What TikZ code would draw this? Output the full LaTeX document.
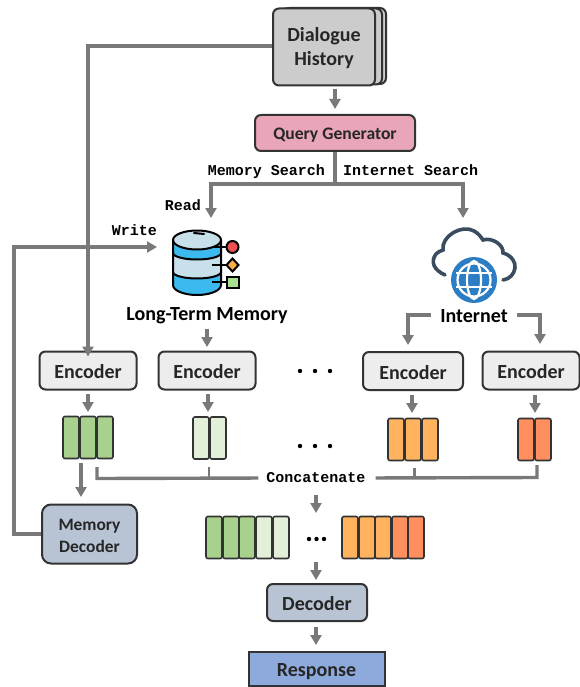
\documentclass[tikz,border=0pt]{standalone}
\usepackage{fontspec}
\setmainfont{Carlito}
\newfontfamily\monob{Liberation Mono}[Scale=1]
\usetikzlibrary{arrows.meta,shapes.geometric}
\definecolor{lin}{HTML}{7A7878}
\definecolor{edgec}{HTML}{333333}
\definecolor{gr1}{HTML}{A9D18E}
\definecolor{gr2}{HTML}{E2F0D9}
\definecolor{or1}{HTML}{FFB35F}
\definecolor{or2}{HTML}{FF8F5F}
\definecolor{qgc}{HTML}{E8A6B8}
\definecolor{decc}{HTML}{B8C4D4}
\definecolor{dbb}{HTML}{3CBAF0}
\definecolor{dbl}{HTML}{C8E0EA}
\newcommand{\dnn}[1]{\rule{0pt}{#1pt}}
\tikzset{
 x=1pt,y=-1pt,
 boxn/.style={draw=edgec,line width=2pt,rounded corners=6pt,inner sep=0pt,align=center,font=\fontsize{20}{24}\selectfont\bfseries,text=black!85},
 enc/.style={boxn,fill=black!7,minimum width=97pt,minimum height=38pt},
 dec/.style={boxn,fill=decc},
 lbl/.style={inner sep=0pt,font=\fontsize{20}{24}\selectfont\bfseries},
 mono/.style={inner sep=0pt,font=\monob\fontsize{15}{17}\selectfont\bfseries},
 conn/.style={draw=lin,line width=3.4pt},
 arr/.style={conn,-{Triangle[width=11pt,length=10pt]}},
 cell/.style={draw=edgec,line width=1.6pt,rounded corners=2pt,minimum width=16pt,minimum height=42pt,inner sep=0pt},
 dots/.style={fill=black,circle,inner sep=0pt,minimum size=4.4pt}
}
\newcommand{\threedots}[4]{%
  \node[dots] (#1a) at (#2-#4,#3) {};
  \node[dots] (#1b) at (#2,#3) {};
  \node[dots] (#1c) at (#2+#4,#3) {};}
\begin{document}
\begin{tikzpicture}
\useasboundingbox (0,0) rectangle (580,687);
% dialogue
\node[boxn,fill=black!20,minimum width=102pt,minimum height=76pt] (dhb) at (335,46) {};
\node[boxn,fill=black!20,minimum width=102pt,minimum height=76pt] (dhm) at (331,46.5) {};
\node[boxn,fill=black!20,minimum width=102pt,minimum height=77pt] (dh) at (324,47) {\dnn{17}Dialogue\\History};
\node[boxn,fill=qgc,minimum width=160pt,minimum height=36pt,font=\fontsize{17.6}{20}\selectfont\bfseries] (qg) at (335,133) {\dnn{16}Query Generator};
\coordinate (dq1) at (335,89);
\coordinate (dq2) at (335,109);
\draw[arr] (dq1) -- (dq2);
% search tree
\coordinate (jn) at (335,184);
\coordinate (rd) at (211,218);
\coordinate (nt) at (463,218);
\draw[conn] (qg.south) -- (jn);
\draw[arr] (jn) -| (rd);
\draw[arr] (jn) -| (nt);
\node[mono,anchor=base east] (ms) at (325,175.5) {Memory Search};
\node[mono,anchor=base west] (is) at (343,175.5) {Internet Search};
\node[mono,anchor=base east] (rdl) at (201,210) {Read};
\node[mono,anchor=base east] (wr) at (157,235) {Write};
% database icon
\begin{scope}[line width=2pt,draw=black]
 \fill[dbb] (173,240) -- (173,285) arc[x radius=24,y radius=10,start angle=180,end angle=0] -- (221,240) -- cycle;
 \fill[dbl] (173,253) arc[x radius=24,y radius=6.5,start angle=180,end angle=0] -- (221,272) arc[x radius=24,y radius=6.5,start angle=0,end angle=180] -- cycle;
 \draw[fill=dbl] (197,240) ellipse[x radius=24,y radius=9.5];
 \draw (173,240) -- (173,285) arc[x radius=24,y radius=10,start angle=180,end angle=0] -- (221,240);
 \draw (173,253) arc[x radius=24,y radius=6.5,start angle=180,end angle=0];
 \draw (173,272) arc[x radius=24,y radius=6.5,start angle=180,end angle=0];
 \draw[line cap=round] (194,233) -- (204,234);
 \draw (212,247) -- (228,247);
 \draw (212,265) -- (228,265);
 \draw (212,282) -- (228,282);
 \draw[fill={rgb,255:red,240;green,80;blue,80}] (232.5,247) circle[radius=6];
 \draw[fill={rgb,255:red,250;green,175;blue,70}] (232.5,258.5) -- (238.5,265) -- (232.5,271.5) -- (226.5,265) -- cycle;
 \draw[fill={rgb,255:red,165;green,225;blue,145}] (227,276.5) rectangle (238.5,288);
\end{scope}
\node[lbl] (ltm) at (207,316) {Long-Term Memory};
% cloud icon
\draw[draw={rgb,255:red,58;green,76;blue,96},line width=3.6pt,line cap=round]
  (445,275) .. controls (434,270) and (430,262) .. (436,254)
  .. controls (438,252) and (440,251) .. (443,250)
  .. controls (441,236) and (462,224) .. (474,231)
  .. controls (478,233) and (481,237) .. (483,240)
  .. controls (492,237) and (504,245) .. (503,253)
  .. controls (511,255) and (516,262) .. (515,268)
  .. controls (514,274) and (510,279) .. (503,280);
\begin{scope}
 \fill[fill={rgb,255:red,44;green,125;blue,196}] (474,280) circle[radius=23];
 \draw[white,line width=2.2pt] (474,280) circle[radius=16.5];
 \draw[white,line width=2.2pt] (474,280) ellipse[x radius=7,y radius=19];
 \draw[white,line width=2.2pt] (456,273) -- (492,273);
 \draw[white,line width=2.2pt] (456,287) -- (492,287);
\end{scope}
\node[lbl] (inet) at (474,316) {Internet};
% encoders
\node[enc] (e1) at (88,370.5) {\dnn{17}Encoder};
\node[enc] (e2) at (207,370.5) {\dnn{17}Encoder};
\node[enc,minimum width=100pt] (e3) at (413,371) {\dnn{17}Encoder};
\node[enc] (e4) at (531,370.5) {\dnn{17}Encoder};
\threedots{da}{315}{371}{15}
\threedots{db}{315}{446}{15}
\threedots{dc}{316.5}{539}{7.5}
% history to encoder 1
\coordinate (hc) at (88,46);
\draw[arr] (dh.west |- hc) -- (hc) -- ([yshift=-6pt]e1.north);
% internet arrows
\coordinate (il) at (431,315);
\coordinate (ilc) at (408,315);
\coordinate (ir) at (517,315);
\coordinate (irc) at (540,315);
\draw[arr] (il) -- (ilc) -- (408,345);
\draw[arr] (ir) -- (irc) -- (540,344);
\draw[arr] (207,329) -- (207,347);
% encoded cells
\foreach \n/\x/\y/\c in {a1/71/437.5/gr1,a2/88/437.5/gr1,a3/105/437.5/gr1,
  b1/201/438/gr2,b2/218/438/gr2,
  c1/396/439.5/or1,c2/413/439.5/or1,c3/430/439.5/or1,
  d1/526/439.5/or2,d2/543/439.5/or2,
  m1/214/537.5/gr1,m2/231/537.5/gr1,m3/247/537.5/gr1,m4/264/537.5/gr2,m5/281/537.5/gr2,
  o1/350/537.5/or1,o2/367/537.5/or1,o3/383/537.5/or1,o4/400/537.5/or2,o5/416/537.5/or2}
  \node[cell,fill=\c] (\n) at (\x,\y) {};
\draw[arr] (88,394) -- (88,412);
\draw[arr] (208,394) -- (208,412);
\draw[arr] (412,395) -- (412,413);
\draw[arr] (535,395) -- (535,413);
% concatenate
\node[mono] (cc) at (316,478) {Concatenate};
\coordinate (cl) at (97,478.5);
\coordinate (cr) at (537,477.5);
\draw[conn,shorten >=8pt] (97,467) -- (cl) -- (cc.west);
\draw[conn,shorten <=10pt] (cc.east) -- (cr) -- (537,465);
\draw[conn,line width=2.6pt] (209,467) -- (209,478);
\draw[conn,line width=2.6pt] (414.5,468) -- (414.5,478);
\draw[arr] (81,463) -- (81,497);
\draw[arr] (316,495) -- (316,513);
% memory decoder
\node[dec,minimum width=95pt,minimum height=59pt,rounded corners=9pt,font=\fontsize{17.4}{21.5}\selectfont\bfseries] (md) at (89.5,534) {\dnn{15}Memory\\Decoder};
\coordinate (wa) at (14,534);
\coordinate (wb) at (14,247);
\coordinate (wc) at (157,247);
\draw[arr] (md.west) -- (wa) -- (wb) -- (wc);
% decoder and response
\node[dec,minimum width=100pt,minimum height=37pt] (dc) at (317,602.5) {\dnn{17}Decoder};
\draw[arr] (316,562) -- (316,580);
\node[draw=edgec,line width=2pt,fill={rgb,255:red,142;green,169;blue,219},minimum width=136pt,minimum height=34pt,inner sep=0pt,font=\fontsize{20}{22}\selectfont\bfseries,text=black!85] (rs) at (316.5,669) {\dnn{18}Response};
\draw[arr] (316,627) -- (316,645);
\end{tikzpicture}
\end{document}
